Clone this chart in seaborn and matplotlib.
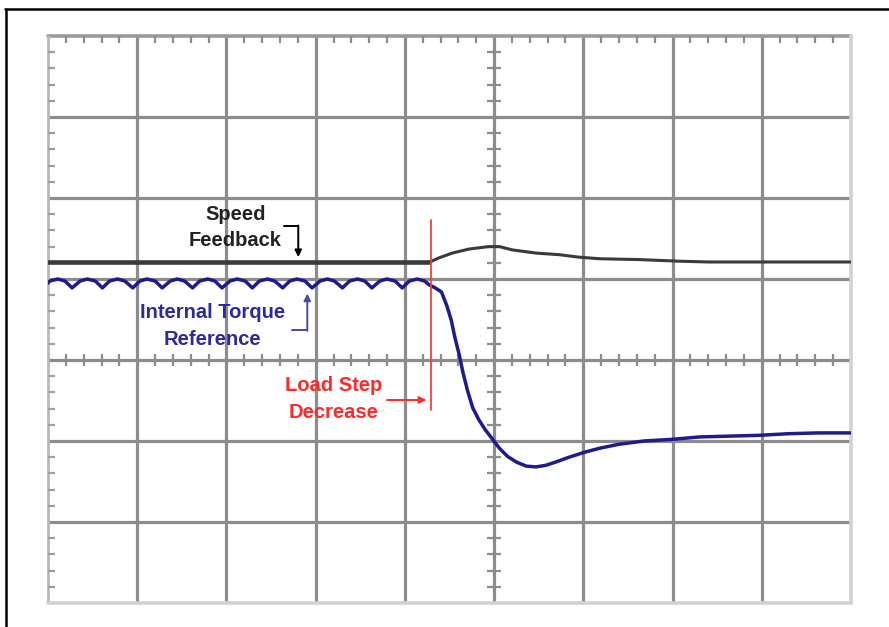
import numpy as np
import matplotlib
matplotlib.use("Agg")
import matplotlib.pyplot as plt
from matplotlib.lines import Line2D
import seaborn as sns

# ---- data (x and y in screen divisions, centre of screen = 0,0) ----
ripple_t = [-5.00, -4.98, -4.89, -4.81, -4.73, -4.64, -4.56, -4.47, -4.39, -4.31,
            -4.22, -4.14, -4.05, -3.97, -3.89, -3.80, -3.72, -3.63, -3.55, -3.47,
            -3.38, -3.30, -3.21, -3.13, -3.05, -2.96, -2.88, -2.79, -2.71, -2.63,
            -2.54, -2.46, -2.37, -2.29, -2.21, -2.12, -2.04, -1.95, -1.87, -1.79,
            -1.70, -1.62, -1.53, -1.45, -1.37, -1.28, -1.20, -1.11, -1.03, -0.95,
            -0.86, -0.78]
ripple_v = [0.95, 0.975, 1.00, 0.975, 0.89, 0.975, 1.00, 0.975, 0.89, 0.975,
            1.00, 0.975, 0.89, 0.975, 1.00, 0.975, 0.89, 0.975, 1.00, 0.975,
            0.89, 0.975, 1.00, 0.975, 0.89, 0.975, 1.00, 0.975, 0.89, 0.975,
            1.00, 0.975, 0.89, 0.975, 1.00, 0.975, 0.89, 0.975, 1.00, 0.975,
            0.89, 0.975, 1.00, 0.975, 0.89, 0.975, 1.00, 0.975, 0.89, 0.975,
            1.00, 0.975]
step_t = [-0.73, -0.66, -0.59, -0.53, -0.48, -0.44, -0.39, -0.35, -0.30, -0.24,
          -0.17, -0.10, -0.03, 0.06, 0.15, 0.25, 0.36, 0.47, 0.58, 0.69,
          0.84, 1.01, 1.18, 1.40, 1.68, 1.99, 2.30, 2.63, 2.97, 3.30, 3.64, 3.99]
step_v = [0.93, 0.89, 0.84, 0.67, 0.49, 0.28, 0.06, -0.15, -0.37, -0.59,
          -0.74, -0.86, -0.96, -1.09, -1.19, -1.26, -1.31, -1.32, -1.30, -1.26,
          -1.20, -1.14, -1.09, -1.04, -1.00, -0.98, -0.95, -0.94, -0.93, -0.91, -0.90, -0.90]
speed_pre_t = [-5.00, -0.73]
speed_pre_v = [1.21, 1.21]
speed_post_t = [-0.73, -0.70, -0.62, -0.47, -0.28, -0.06, 0.06, 0.20, 0.47, 0.73,
                0.95, 1.18, 1.62, 2.07, 2.41, 3.99]
speed_post_v = [1.21, 1.22, 1.26, 1.32, 1.37, 1.40, 1.40, 1.36, 1.32, 1.30,
                1.27, 1.25, 1.24, 1.22, 1.21, 1.21]
step_time = -0.705

# ---- figure ----
sns.set_style("white")
plt.rcParams['font.family'] = ['Liberation Sans', 'DejaVu Sans']
W, H = 889, 627
fig = plt.figure(figsize=(W / 100, H / 100), dpi=100)
fig.patch.set_facecolor("white")
ax = fig.add_axes([48 / W, (H - 603) / H, (851 - 48) / W, (603 - 36) / H])
ax.set_xlim(-5, 4)
ax.set_ylim(-3, 4)
ax.set_xticks([]); ax.set_yticks([])
for s in ax.spines.values():
    s.set_visible(False)

# outer frame (top and left edges visible)
fig.add_artist(Line2D([5 / W, 1.0], [1 - 8.5 / H, 1 - 8.5 / H], color="black", lw=1.8))
fig.add_artist(Line2D([6 / W, 6 / W], [0, 1 - 8.5 / H], color="black", lw=1.8))

grid_c = "#8c8c8c"
for xv in range(-4, 4):
    ax.axvline(xv, color=grid_c, lw=2.3, zorder=1)
for yv in range(-2, 4):
    ax.axhline(yv, color=grid_c, lw=2.3, zorder=1)
ax.axhline(4, color="#9a9a9a", lw=2.6, zorder=1, clip_on=False)
ax.axvline(-5, color="#b8b8b8", lw=2.0, zorder=1, clip_on=False)
ax.axvline(4, color="#d2d2d2", lw=2.6, zorder=1, clip_on=False)
ax.axhline(-3, color="#d2d2d2", lw=2.6, zorder=1, clip_on=False)

# minor graticule ticks
fx = [x for x in np.arange(-5, 4.001, 0.2) if abs(x - round(x)) > 0.05]
fy = [y for y in np.arange(-3, 4.001, 0.2) if abs(y - round(y)) > 0.05]
ax.plot(fx, [0] * len(fx), ls="none", marker="|", ms=9, mew=1.6, color=grid_c, zorder=1)
ax.plot([0] * len(fy), fy, ls="none", marker="_", ms=10, mew=1.6, color=grid_c, zorder=1)
ax.plot(fx, [4] * len(fx), ls="none", marker=3, ms=5, mew=1.6, color="#8c8c8c", zorder=1, clip_on=False)
ax.plot([-5] * len(fy), fy, ls="none", marker=1, ms=5, mew=1.6, color="#a0a0a0", zorder=1, clip_on=False)

# curves
navy = "#1c1c8e"
sns.lineplot(x=speed_pre_t, y=speed_pre_v, ax=ax, color="#3a3a3a", lw=3.3, sort=False,
             estimator=None, zorder=3)
sns.lineplot(x=speed_post_t, y=speed_post_v, ax=ax, color="#3a3a3a", lw=2.2, sort=False,
             estimator=None, zorder=3)
sns.lineplot(x=ripple_t + step_t, y=ripple_v + step_v, ax=ax, color=navy, lw=2.5, sort=False,
             estimator=None, zorder=3, solid_joinstyle="round")

# load step marker
ax.plot([step_time, step_time], [1.73, -0.62], color="#ff3b3b", lw=1.3, zorder=4)

# annotations
fs = 14.5
ls = 1.5
ax.text(-2.90, 1.636, "Speed\nFeedback", ha="center", va="center", fontsize=fs,
        fontweight="bold", color="#222222", linespacing=ls, zorder=5)
ax.plot([-2.35, -2.195], [1.654, 1.654], color="black", lw=1.4, zorder=5)
ax.annotate("", xy=(-2.195, 1.27), xytext=(-2.195, 1.66),
            arrowprops=dict(arrowstyle="-|>", color="black", lw=1.4, mutation_scale=10,
                            shrinkA=0, shrinkB=0), zorder=5)

ax.text(-3.16, 0.42, "Internal Torque\nReference", ha="center", va="center", fontsize=fs,
        fontweight="bold", color="#2b2b9b", linespacing=ls, zorder=5)
ax.plot([-2.27, -2.094], [0.37, 0.37], color="#4a4aa8", lw=1.4, zorder=5)
ax.annotate("", xy=(-2.094, 0.82), xytext=(-2.094, 0.36),
            arrowprops=dict(arrowstyle="-|>", color="#4a4aa8", lw=1.4, mutation_scale=10,
                            shrinkA=0, shrinkB=0), zorder=5)

ax.text(-1.80, -0.48, "Load Step\nDecrease", ha="center", va="center", fontsize=fs,
        fontweight="bold", color="#ff2a2a", linespacing=ls, zorder=5)
ax.annotate("", xy=(-0.76, -0.494), xytext=(-1.20, -0.494),
            arrowprops=dict(arrowstyle="-|>", color="#ff2a2a", lw=1.4, mutation_scale=10,
                            shrinkA=0, shrinkB=0), zorder=5)

fig.savefig("out.png", dpi=100, facecolor="white")
